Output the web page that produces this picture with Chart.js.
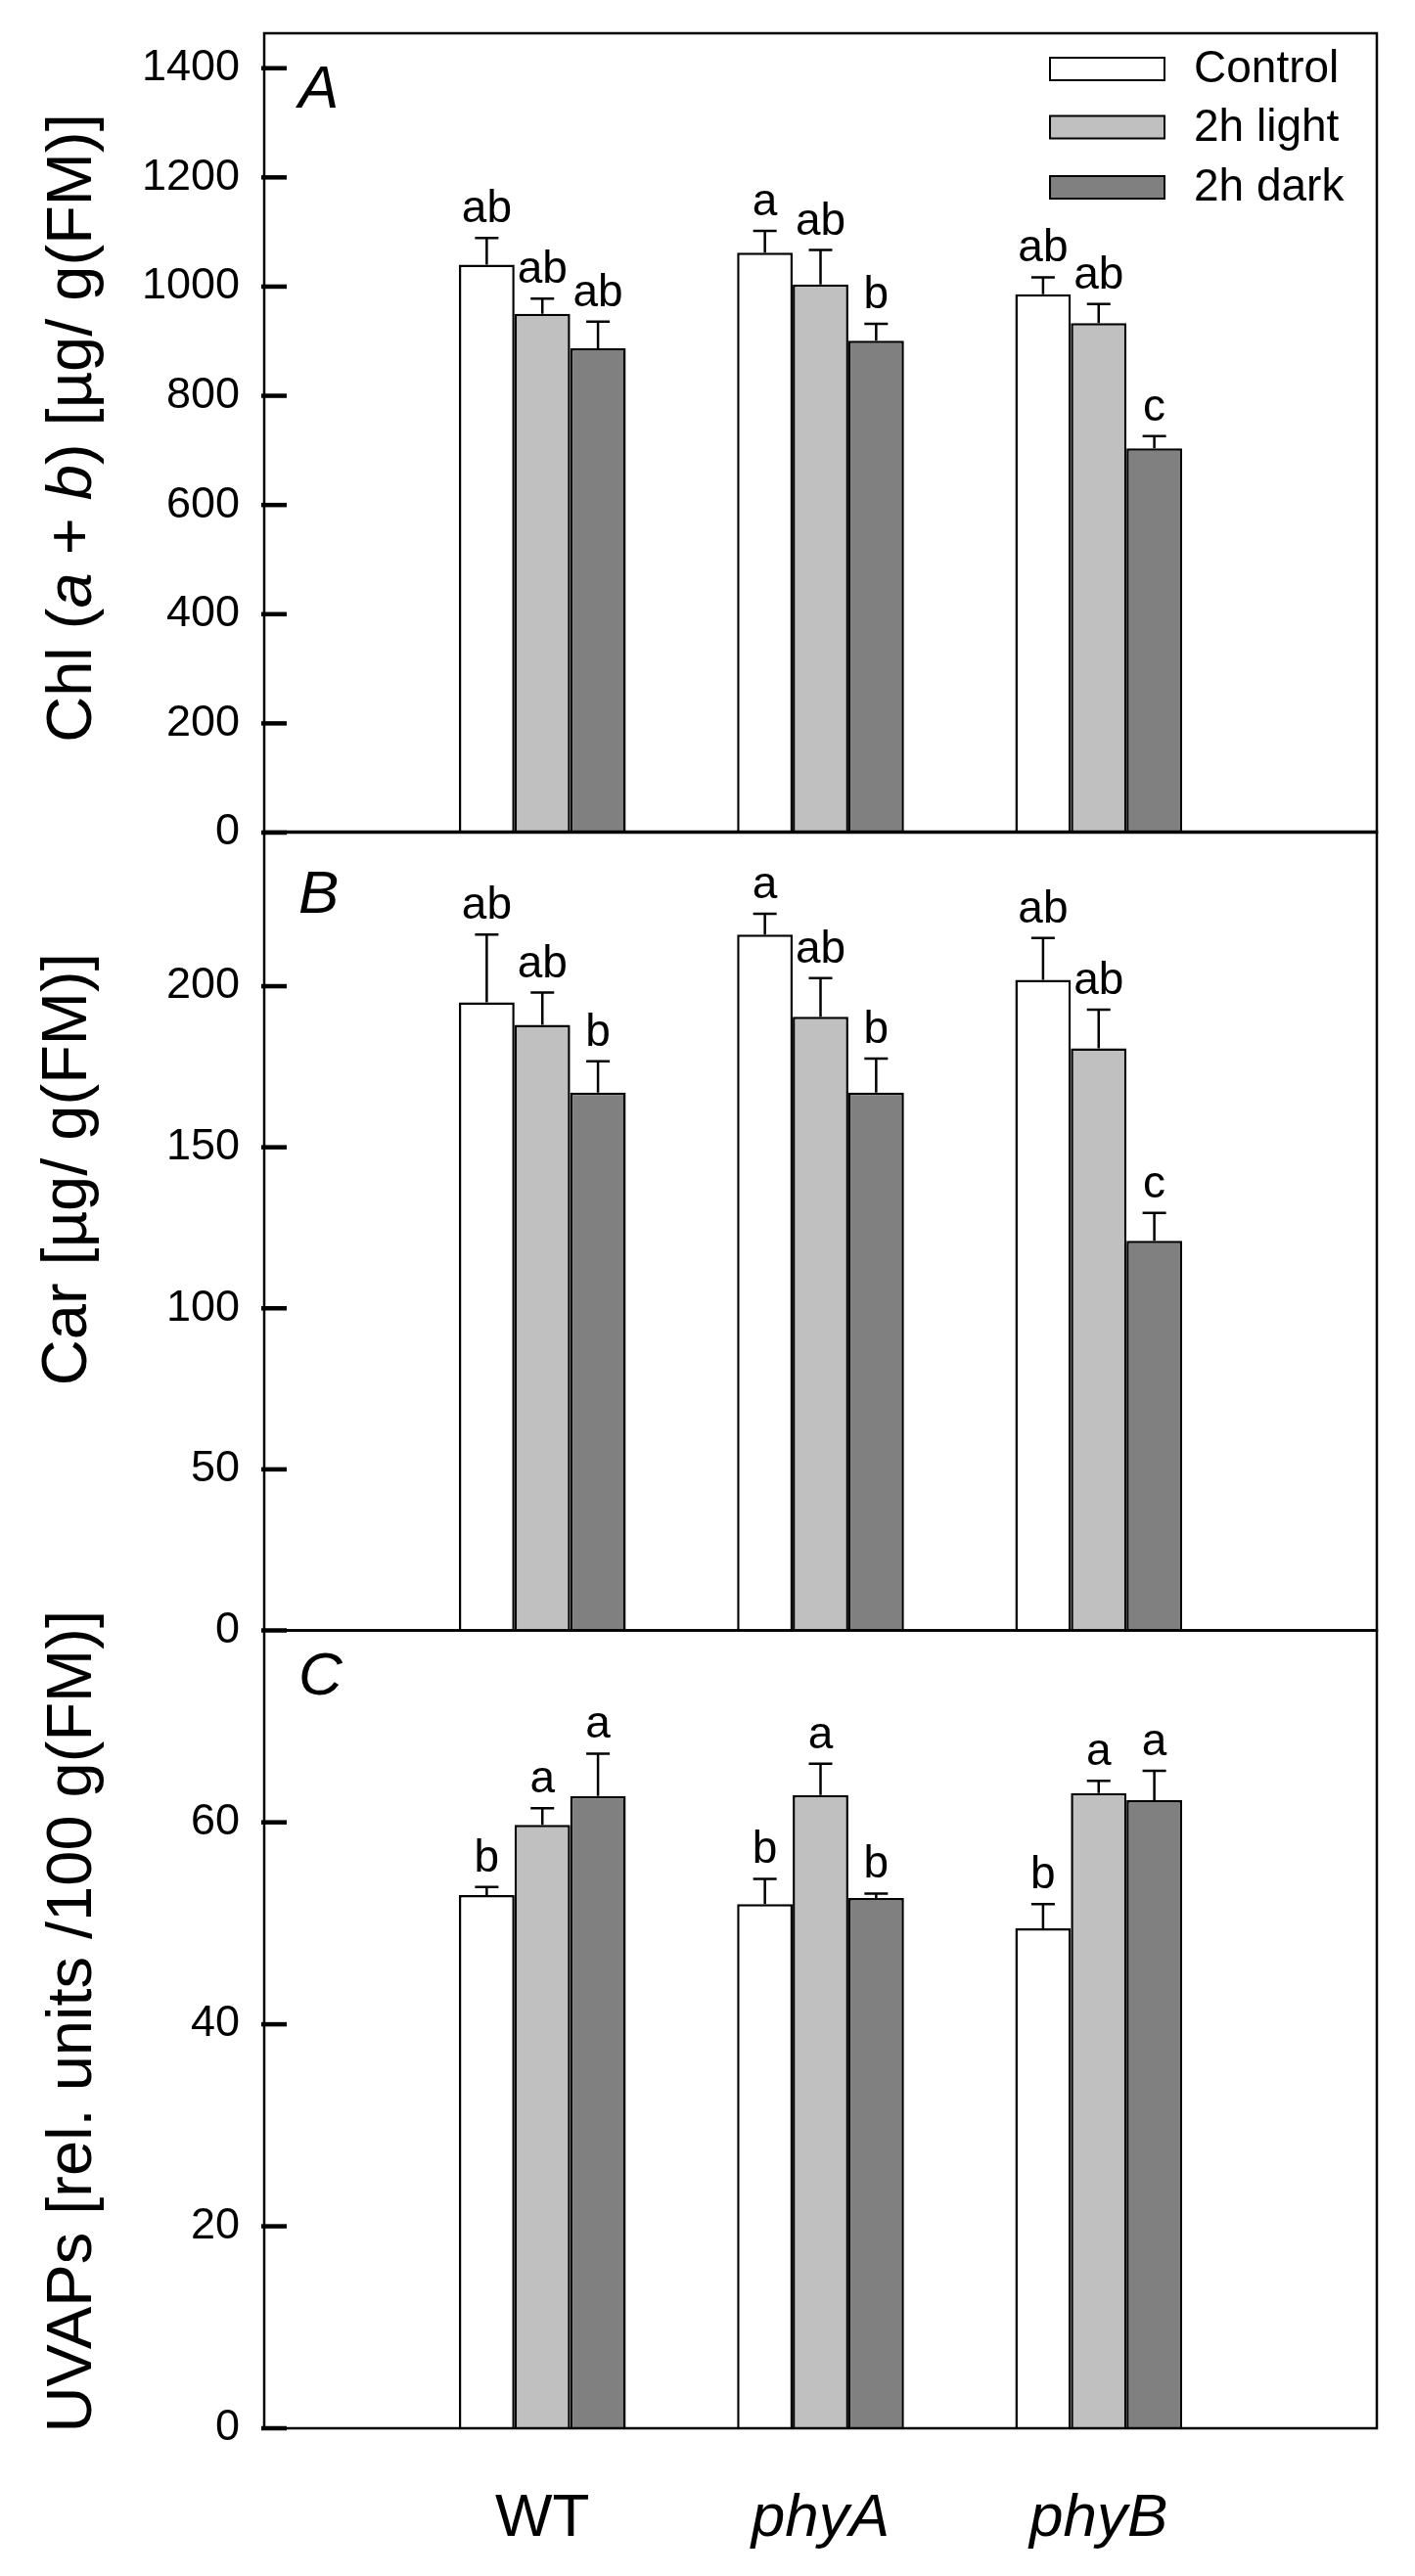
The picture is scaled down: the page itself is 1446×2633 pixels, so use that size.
<!DOCTYPE html>
<html>
<head>
<meta charset="utf-8">
<title>Chl, Car and UVAPs in WT, phyA and phyB</title>
<script src="https://cdn.jsdelivr.net/npm/chart.js@4.4.1/dist/chart.umd.min.js"></script>
<style>
  html, body { margin: 0; padding: 0; background: #fff; }
  #wrap { position: relative; width: 1446px; height: 2633px; }
  #wrap canvas { position: absolute; left: 0; }
</style>
</head>
<body>
<div id="wrap">
  <canvas id="chlChart" width="1446" height="900" style="top:0px"></canvas>
  <canvas id="carChart" width="1446" height="900" style="top:800px"></canvas>
  <canvas id="uvapChart" width="1446" height="1033" style="top:1600px"></canvas>
</div>
<script>
const categories = ['WT', 'phyA', 'phyB'];
const treatments = ['Control', '2h light', '2h dark'];
const barColors = ['#ffffff', '#c0c0c0', '#808080'];

// A - Chl (a + b)
const chlControl = [1040, 1062, 986];
const chlLight = [950, 1004, 933];
const chlDark = [887, 901, 704];
const chlControlErr = [49, 40, 31];
const chlLightErr = [28, 63, 35];
const chlDarkErr = [49, 31, 22];
const chlControlLetters = ['ab', 'a', 'ab'];
const chlLightLetters = ['ab', 'ab', 'ab'];
const chlDarkLetters = ['ab', 'b', 'c'];
const chlTicks = [0, 200, 400, 600, 800, 1000, 1200, 1400];

// B - Car
const carControl = [195, 216, 202];
const carLight = [188, 190.5, 180.7];
const carDark = [167, 167, 121];
const carControlErr = [21, 6.5, 13];
const carLightErr = [10, 12, 12];
const carDarkErr = [9.7, 10.5, 8.6];
const carControlLetters = ['ab', 'a', 'ab'];
const carLightLetters = ['ab', 'ab', 'ab'];
const carDarkLetters = ['b', 'b', 'c'];
const carTicks = [0, 50, 100, 150, 200];

// C - UVAPs
const uvapControl = [52.8, 51.9, 49.5];
const uvapLight = [59.75, 62.7, 62.9];
const uvapDark = [62.6, 52.5, 62.2];
const uvapControlErr = [0.8, 2.5, 2.4];
const uvapLightErr = [1.65, 3.1, 1.2];
const uvapDarkErr = [4.2, 0.45, 2.9];
const uvapControlLetters = ['b', 'b', 'b'];
const uvapLightLetters = ['a', 'a', 'a'];
const uvapDarkLetters = ['a', 'b', 'a'];
const uvapTicks = [0, 20, 40, 60];

const FONT = '"Liberation Sans", Arial, sans-serif';

// empty slot on each side so the groups sit at 1/4, 2/4, 3/4 of the axis
const pad = arr => [null, ...arr, null];

const panelPlugin = {
  id: 'panelDecor',
  afterDatasetsDraw(chart, args, opts) {
    const ctx = chart.ctx;
    const area = chart.chartArea;
    const yScale = chart.scales.y;
    ctx.save();
    ctx.strokeStyle = '#000';
    ctx.fillStyle = '#000';

    // error bars + letters
    chart.data.datasets.forEach((ds, i) => {
      const meta = chart.getDatasetMeta(i);
      meta.data.forEach((bar, j) => {
        const v = ds.data[j];
        if (v == null) return;
        const top = yScale.getPixelForValue(v + ds.errors[j]);
        ctx.lineWidth = 2.5;
        ctx.beginPath();
        ctx.moveTo(bar.x, bar.y);
        ctx.lineTo(bar.x, top);
        ctx.moveTo(bar.x - 12, top);
        ctx.lineTo(bar.x + 12, top);
        ctx.stroke();
        ctx.font = '46px ' + FONT;
        ctx.textAlign = 'center';
        ctx.textBaseline = 'alphabetic';
        ctx.fillText(ds.letters[j], bar.x, top - 16);
      });
    });

    // frame
    ctx.lineWidth = 2.5;
    ctx.strokeRect(area.left, area.top, area.right - area.left, area.bottom - area.top);

    // inward tick marks
    ctx.lineWidth = 4.5;
    yScale.ticks.forEach(t => {
      const py = yScale.getPixelForValue(t.value);
      ctx.beginPath();
      ctx.moveTo(area.left - 3, py);
      ctx.lineTo(area.left + 23, py);
      ctx.stroke();
    });

    // panel letter
    ctx.font = 'italic 62px ' + FONT;
    ctx.textAlign = 'left';
    ctx.textBaseline = 'alphabetic';
    ctx.fillText(opts.label, area.left + 35, area.top + opts.labelDy);

    // rotated y title, with italic parts
    const cy = (area.top + area.bottom) / 2 + opts.titleDy;
    ctx.translate(opts.titleX, cy);
    ctx.rotate(-Math.PI / 2);
    let total = 0;
    opts.title.forEach(seg => {
      ctx.font = (seg[1] ? 'italic ' : '') + '65px ' + FONT;
      total += ctx.measureText(seg[0]).width;
    });
    let tx = -total / 2;
    opts.title.forEach(seg => {
      ctx.font = (seg[1] ? 'italic ' : '') + '65px ' + FONT;
      ctx.fillText(seg[0], tx, 0);
      tx += ctx.measureText(seg[0]).width;
    });
    ctx.restore();

    // legend (top panel only)
    if (opts.legend) {
      ctx.save();
      const rows = [70.5, 130, 191.5];
      ctx.lineWidth = 2;
      ctx.strokeStyle = '#000';
      ctx.font = '46px ' + FONT;
      ctx.textAlign = 'left';
      ctx.textBaseline = 'middle';
      treatments.forEach((name, i) => {
        ctx.fillStyle = barColors[i];
        ctx.fillRect(1073, rows[i] - 11.5, 117, 23);
        ctx.strokeRect(1073, rows[i] - 11.5, 117, 23);
        ctx.fillStyle = '#000';
        ctx.fillText(name, 1220, rows[i] + 1);
      });
      ctx.restore();
    }
  }
};

function makePanel(id, series, errors, letters, ticks, yMax, padding, showX, decor) {
  const el = document.getElementById(id);
  if (!el) return;
  return new Chart(el.getContext('2d'), {
    type: 'bar',
    data: {
      labels: pad(categories).map(c => c || ''),
      datasets: series.map((s, i) => ({
        label: treatments[i],
        data: pad(s),
        errors: pad(errors[i]),
        letters: pad(letters[i]),
        backgroundColor: barColors[i],
        borderColor: '#000',
        borderWidth: 2.5,
        categoryPercentage: 0.6,
        barPercentage: 1.0
      }))
    },
    options: {
      responsive: false,
      animation: false,
      events: [],
      layout: { padding: padding },
      scales: {
        x: {
          display: showX,
          offset: false,
          grid: { display: false },
          border: { display: false },
          ticks: {
            autoSkip: false,
            maxRotation: 0,
            padding: 48,
            color: '#000',
            font: (c) => ({ family: FONT, size: 62, style: c.index >= 2 ? 'italic' : 'normal' })
          },
          afterFit: (s) => {
            s.paddingLeft = 0;
            s.paddingRight = 0;
            if (showX) s.height = 151;
          }
        },
        y: {
          min: 0,
          max: yMax,
          grid: { display: false },
          border: { display: false },
          afterBuildTicks: (s) => { s.ticks = ticks.map(v => ({ value: v })); },
          ticks: {
            padding: 17,
            color: '#000',
            font: { family: FONT, size: 45 },
            callback: (v) => String(v)
          },
          afterFit: (s) => {
            s.width = 270;
            s.paddingTop = 0;
            s.paddingBottom = 0;
          }
        }
      },
      plugins: {
        legend: { display: false },
        tooltip: { enabled: false },
        panelDecor: decor
      }
    },
    plugins: [panelPlugin]
  });
}

document.addEventListener('DOMContentLoaded', () => {
  makePanel('chlChart',
    [chlControl, chlLight, chlDark],
    [chlControlErr, chlLightErr, chlDarkErr],
    [chlControlLetters, chlLightLetters, chlDarkLetters],
    chlTicks, 1464,
    { top: 34, bottom: 49, left: 0, right: 39 }, false,
    { label: 'A', labelDy: 76, titleX: 93, titleDy: -5, legend: true,
      title: [['Chl (', false], ['a', true], [' + ', false], ['b', true], [') [µg/ g(FM)]', false]] });

  makePanel('carChart',
    [carControl, carLight, carDark],
    [carControlErr, carLightErr, carDarkErr],
    [carControlLetters, carLightLetters, carDarkLetters],
    carTicks, 248,
    { top: 50, bottom: 33.5, left: 0, right: 39 }, false,
    { label: 'B', labelDy: 83, titleX: 88, titleDy: -63, legend: false,
      title: [['Car [µg/ g(FM)]', false]] });

  makePanel('uvapChart',
    [uvapControl, uvapLight, uvapDark],
    [uvapControlErr, uvapLightErr, uvapDarkErr],
    [uvapControlLetters, uvapLightLetters, uvapDarkLetters],
    uvapTicks, 79,
    { top: 66.5, bottom: 0, left: 0, right: 39 }, true,
    { label: 'C', labelDy: 65.5, titleX: 93, titleDy: -8, legend: false,
      title: [['UVAPs [rel. units /100 g(FM)]', false]] });
});
</script>
</body>
</html>
